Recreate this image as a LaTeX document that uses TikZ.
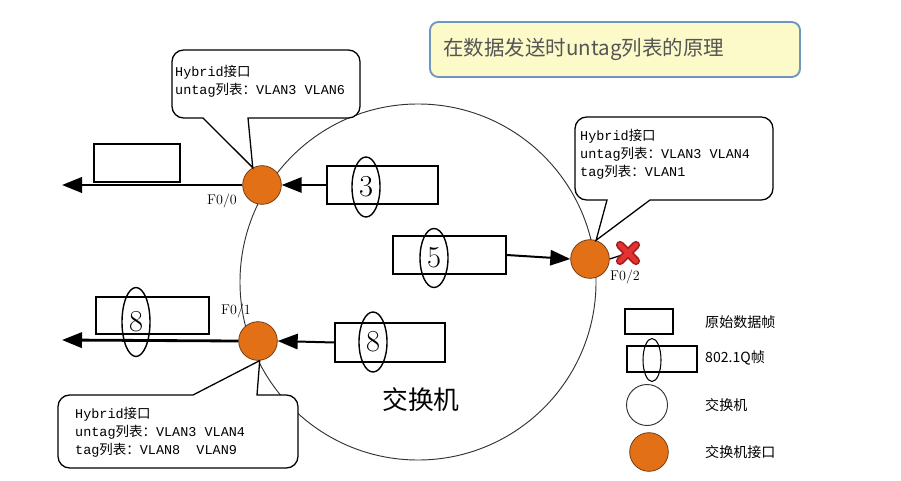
\documentclass[tikz,border=0pt]{standalone}
\usepackage{fontspec}
\setmonofont{Liberation Mono}
\newfontfamily\cjk{Noto Sans CJK SC}
\usetikzlibrary{arrows.meta,shapes.geometric}
\definecolor{portorange}{RGB}{226,112,22}
\definecolor{portedge}{RGB}{110,50,10}
\definecolor{titlefill}{RGB}{252,250,200}
\definecolor{titleedge}{RGB}{110,150,190}
\definecolor{titletext}{RGB}{85,85,85}
\definecolor{xred}{RGB}{228,50,50}
\definecolor{xedge}{RGB}{165,30,30}
\newcommand{\zh}[1]{{\cjk #1}}

\begin{document}
\begin{tikzpicture}[
        x=0.03cm,
        y=-0.03cm,
        every node/.style={inner sep=0pt},
        port/.style={
            circle,
            draw=portedge,
            fill=portorange,
            line width=0.6pt,
            minimum size=11.6mm
        },
        frame/.style={rectangle, draw, line width=1.2pt},
        tagring/.style={
            ellipse,
            draw,
            line width=1.2pt,
            minimum width=8.4mm,
            font=\fontsize{26}{26}\selectfont
        },
        sendarrow/.style={line width=2.4pt, -{Triangle[length=6mm, width=4.6mm]}},
        recvarrow/.style={line width=1.7pt, -{Triangle[length=6mm, width=4.6mm]}},
        callout/.style={draw, fill=white, line width=1.1pt, rounded corners=3.5mm},
        calltext/.style={anchor=north west, align=left, font=\ttfamily\fontsize{11.5}{15.5}\selectfont},
        portname/.style={font=\fontsize{12}{12}\selectfont},
        legendtext/.style={anchor=west, font=\cjk\fontsize{12}{14}\selectfont}
    ]
    \useasboundingbox (0,0) rectangle (901,481);

    % Switch
    \node[circle, draw=black!80, line width=0.8pt, minimum size=106.8mm] (sw) at (418,282) {};
    \node[font=\cjk\fontsize{22}{24}\selectfont] (swlabel) at (421,400) {交换机};

    % Ports
    \node[port] (p00) at (262,185) {};
    \node[port] (p01) at (258,341) {};
    \node[port] (p02) at (590,259) {};
    \node[portname] (n00) at (222,201) {F0/0};
    \node[portname] (n01) at (236,311) {F0/1};
    \node[portname] (n02) at (625,277) {F0/2};

    % F0/0: tagged frame in, untagged frame out
    \node[frame, minimum width=33.3mm, minimum height=11.4mm] (f3) at (382.5,185) {};
    \node[tagring, minimum height=18mm] (r3) at (366,187) {3};
    \draw[recvarrow] (f3.west) -- (p00.east);
    \coordinate (out0) at (62,185);
    \draw[sendarrow] (p00.west) -- (out0);
    \node[frame, minimum width=25.8mm, minimum height=11.4mm] (f0) at (137,163) {};

    % F0/2: blocked
    \node[frame, minimum width=33.9mm, minimum height=11.4mm] (f5) at (449.5,255) {};
    \node[tagring, minimum height=17.7mm] (r5) at (434,258) {5};
    \draw[recvarrow] (f5.east) -- (p02.west);
    \coordinate (xm) at (628,253);
    \draw[line width=1.1pt] (p02.east) -- (xm);
    \draw[xedge, line width=7pt, line cap=round] (xm) +(-8,-8) -- +(8,8) +(-8,8) -- +(8,-8);
    \draw[xred, line width=4pt, line cap=round] (xm) +(-8,-8) -- +(8,8) +(-8,8) -- +(8,-8);

    % F0/1: tagged frame in, tagged frame out
    \node[frame, minimum width=33mm, minimum height=11.7mm] (f8a) at (390,342.5) {};
    \node[tagring, minimum height=18mm] (r8a) at (373,342) {8};
    \draw[recvarrow] (f8a.west) -- (p01.east);
    \coordinate (out1) at (62,340);
    \draw[sendarrow] (p01.west) -- (out1);
    \node[frame, minimum width=33.9mm, minimum height=11.1mm] (f8b) at (152.5,315.5) {};
    \node[tagring, minimum height=20.7mm] (r8b) at (136,322) {8};

    % Callouts
    \draw[callout] (300,50) -- (172,50) -- (172,118) [sharp corners] -- (203,118) -- (p00.118)
        -- (248,118) [rounded corners=3.5mm] -- (360,118) -- (360,50) -- cycle;
    \node[calltext] (co0) at (175,65) {Hybrid\zh{接口}\\untag\zh{列表：}VLAN3 VLAN6};

    \draw[callout] (700,117) -- (575,117) -- (575,200) [sharp corners] -- (607,200) -- (p02.72)
        -- (650,200) [rounded corners=3.5mm] -- (773,200) -- (773,117) -- cycle;
    \node[calltext] (co1) at (580,129) {Hybrid\zh{接口}\\untag\zh{列表：}VLAN3 VLAN4\\tag\zh{列表：}VLAN1};

    \draw[callout] (150,468) -- (298,468) -- (298,395) [sharp corners] -- (257,395) -- (p01.-85)
        -- (193,395) [rounded corners=3.5mm] -- (58,395) -- (58,468) -- cycle;
    \node[calltext] (co2) at (75,407) {Hybrid\zh{接口}\\untag\zh{列表：}VLAN3 VLAN4\\tag\zh{列表：}VLAN8\ \ VLAN9};

    % Title
    \node[draw=titleedge, fill=titlefill, line width=1.6pt, rounded corners=2.5mm,
        minimum width=111mm, minimum height=16.5mm, text width=103mm, align=left,
        inner xsep=3.6mm, text=titletext, font=\cjk\fontsize{17.5}{20}\selectfont]
        (title) at (615,49.5) {在数据发送时untag列表的原理};

    % Legend
    \node[frame, line width=0.9pt, minimum width=14.4mm, minimum height=7.5mm] (lg0) at (649,321.5) {};
    \node[legendtext] (lt0) at (705,322) {原始数据帧};
    \node[frame, line width=0.9pt, minimum width=21mm, minimum height=7.8mm] (lg1) at (662,359) {};
    \node[ellipse, draw, line width=0.9pt, minimum width=5.4mm, minimum height=12.9mm] (lr1) at (652,360) {};
    \node[legendtext] (lt1) at (705,358) {802.1Q帧};
    \node[circle, draw=black!80, line width=0.8pt, minimum size=12.3mm] (lg2) at (647,405) {};
    \node[legendtext] (lt2) at (705,405) {交换机};
    \node[port] (lg3) at (649,452) {};
    \node[legendtext] (lt3) at (705,452) {交换机接口};

\end{tikzpicture}
\end{document}
